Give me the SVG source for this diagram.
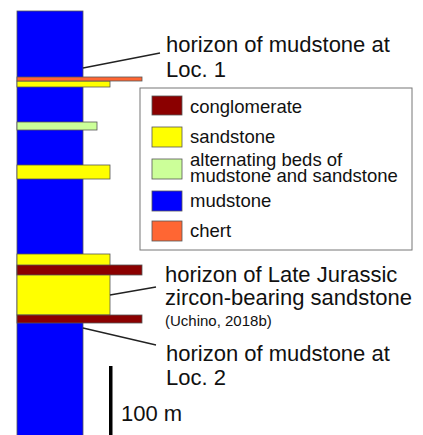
<svg xmlns="http://www.w3.org/2000/svg" width="423" height="435" viewBox="0 0 423 435">
<style>
text{font-family:"Liberation Sans",Arial,sans-serif;fill:#111}
.big{font-size:22px}
.leg{font-size:18.5px}
.leg2{font-size:18.5px}
.sm{font-size:15px}
.bar{stroke:#555;stroke-width:0.8}
.cg{fill:#8b0000}
.ss{fill:#ffff00}
.alt{fill:#ccff99}
.md{fill:#0000ff}
.ch{fill:#ff6633}
.lead{stroke:#222;stroke-width:1.3;fill:none}
</style>
<rect width="423" height="435" fill="#fff"/>
<g id="column">
<rect class="md bar" x="17" y="11" width="66" height="430"/>
<rect class="ss bar" x="17" y="81" width="93" height="6"/>
<rect class="ch bar" x="17" y="77" width="125" height="4"/>
<rect class="alt bar" x="17" y="122" width="80" height="8"/>
<rect class="ss bar" x="17" y="165" width="93" height="14"/>
<rect class="ss bar" x="17" y="254" width="93" height="61"/>
<rect class="cg bar" x="17" y="265" width="125" height="10"/>
<rect class="cg bar" x="17" y="315" width="125" height="8"/>
</g>
<g id="connectors">
<line class="lead" x1="83" y1="68" x2="160" y2="53"/>
<line class="lead" x1="110" y1="295" x2="156" y2="287"/>
<line class="lead" x1="83" y1="328" x2="156" y2="345"/>
</g>
<g id="label-loc1">
<text class="big" x="166" y="52">horizon of mudstone at</text>
<text class="big" x="166" y="77">Loc. 1</text>
</g>
<g id="label-jurassic">
<text class="big" x="165" y="282">horizon of Late Jurassic</text>
<text class="big" x="165" y="305">zircon-bearing sandstone</text>
<text class="sm" x="165" y="326">(Uchino, 2018b)</text>
</g>
<g id="label-loc2">
<text class="big" x="166" y="361">horizon of mudstone at</text>
<text class="big" x="166" y="385">Loc. 2</text>
</g>
<g id="scale">
<rect x="109" y="366" width="3.5" height="70" fill="#000"/>
<text class="big" x="121" y="421">100 m</text>
</g>
<g id="legend">
<rect x="140" y="88" width="272" height="162" fill="#fff" stroke="#777" stroke-width="1"/>
<rect class="cg bar" x="152" y="96" width="30" height="19"/>
<text class="leg" x="190" y="113">conglomerate</text>
<rect class="ss bar" x="152" y="127" width="30" height="20"/>
<text class="leg" x="190" y="143">sandstone</text>
<rect class="alt bar" x="152" y="159" width="30" height="20"/>
<text class="leg2" x="190" y="182"><tspan x="190" y="165.5">alternating beds of</tspan><tspan x="190" y="182">mudstone and sandstone</tspan></text>
<rect class="md bar" x="152" y="191" width="30" height="20"/>
<text class="leg" x="190" y="207">mudstone</text>
<rect class="ch bar" x="152" y="221" width="30" height="20"/>
<text class="leg" x="190" y="237">chert</text>
</g>
</svg>
